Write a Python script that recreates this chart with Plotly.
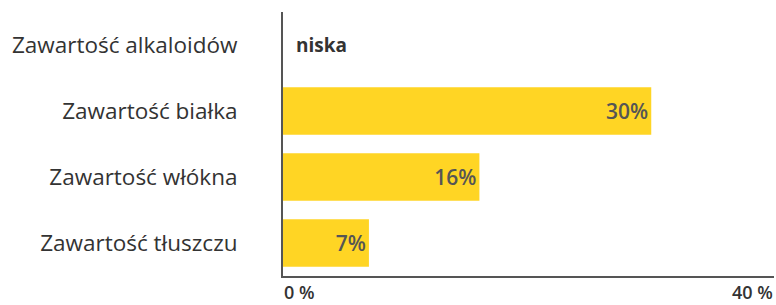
import plotly.graph_objects as go

categories = ["Zawartość alkaloidów", "Zawartość białka", "Zawartość włókna", "Zawartość tłuszczu"]
values = [0, 30, 16, 7]
bar_texts = ["", "30%", "16%", "7%"]
special_label = "niska"
tick_vals = [0, 40]
tick_labels = ["0 %", "40 %"]

FONT = "Open Sans"
fig = go.Figure()
fig.add_trace(go.Bar(
    y=categories, x=values, orientation="h",
    marker=dict(color="#FFD524", line=dict(width=0)),
    text=bar_texts, textposition="inside", insidetextanchor="end",
    textfont=dict(family=FONT, size=21, color="#555555", weight=600),
    cliponaxis=False, hoverinfo="skip",
))

# "niska" label on the zero-valued row
fig.add_annotation(x=0, y=categories[0], text="<b>" + special_label + "</b>", showarrow=False,
                   xanchor="left", xshift=11, font=dict(family=FONT, size=19, color="#333333"))

# bottom tick labels
for v, t, anc in zip(tick_vals, tick_labels, ["left", "right"]):
    fig.add_annotation(x=v, y=0, yref="paper", yanchor="top", yshift=-3, text=t, showarrow=False,
                       xanchor=anc, borderpad=0,
                       font=dict(family=FONT, size=18, color="#333333", weight=600))

fig.update_layout(
    width=776, height=305,
    margin=dict(l=283, r=2, t=12, b=29, autoexpand=False),
    paper_bgcolor="white", plot_bgcolor="white",
    bargap=0.28, showlegend=False,
    font=dict(family=FONT),
    uniformtext=dict(minsize=8, mode="show"),
)
fig.update_xaxes(range=[0, 40], showgrid=False, zeroline=False, showline=True, automargin=False,
                 linecolor="#555555", linewidth=2, tickvals=tick_vals, showticklabels=False,
                 ticks="inside", ticklen=5, tickwidth=2, tickcolor="#555555", fixedrange=True)
fig.update_yaxes(autorange="reversed", showgrid=False, zeroline=False, showline=True, automargin=False,
                 linecolor="#555555", linewidth=2, ticks="", ticklabelstandoff=39,
                 tickfont=dict(family=FONT, size=22.5, color="#333333"), fixedrange=True)

fig.write_html("out.html", config={"displayModeBar": False},
               post_script="document.body.style.margin='0';document.body.style.overflow='hidden';")
